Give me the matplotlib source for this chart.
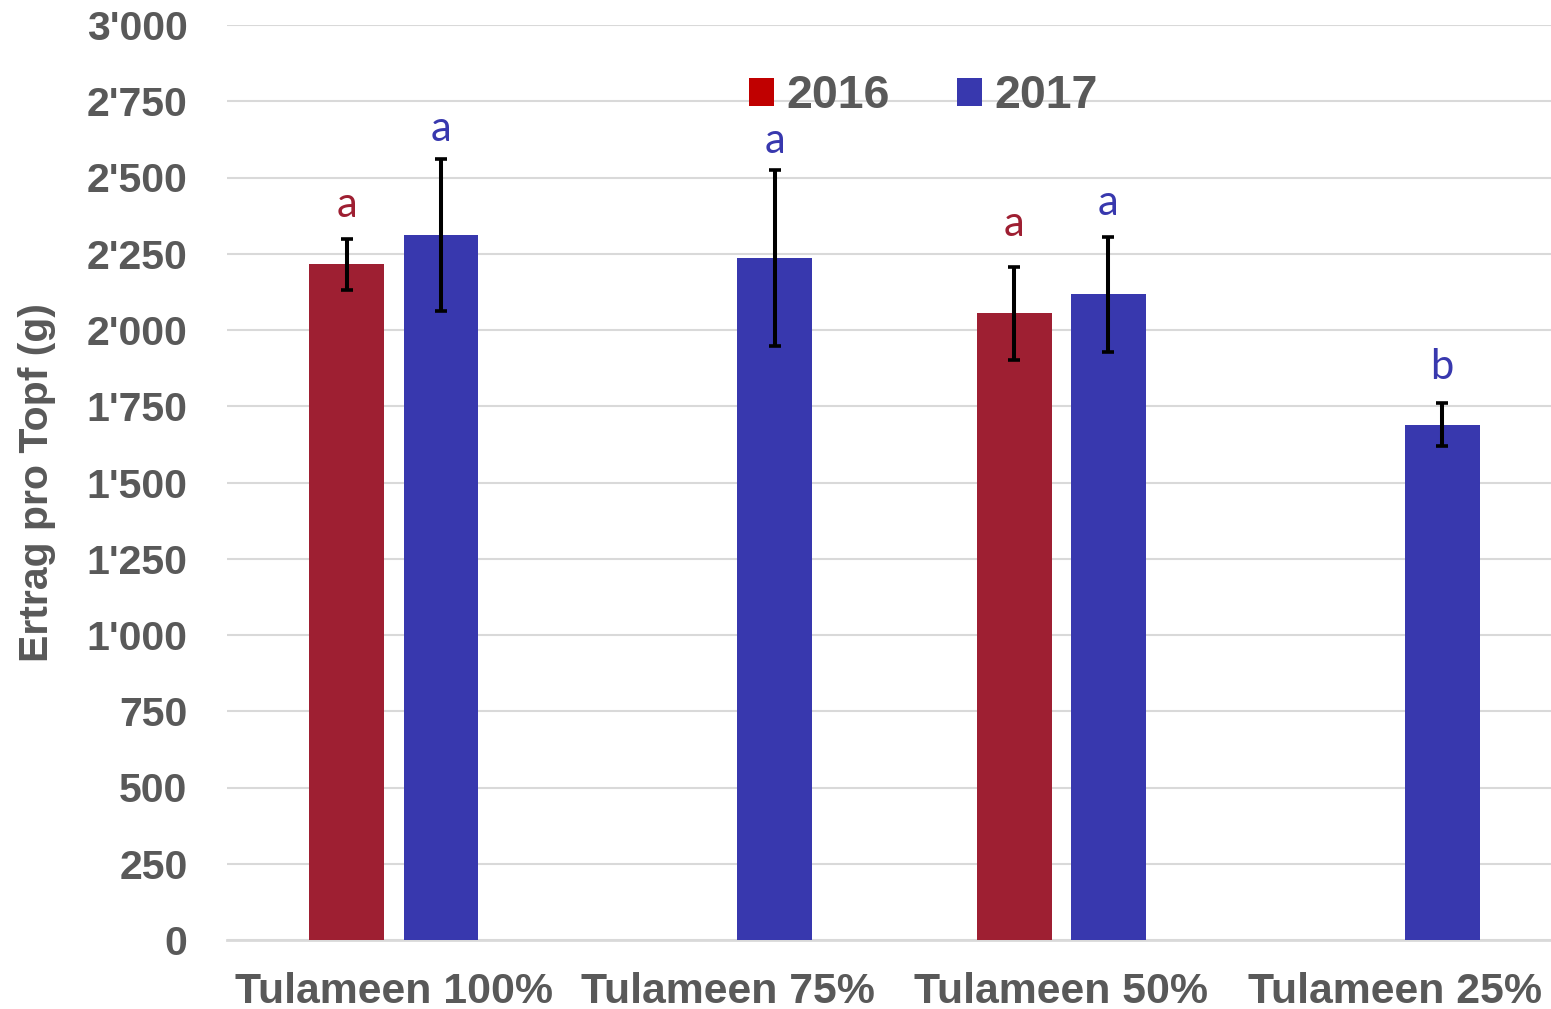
import numpy as np
import matplotlib
matplotlib.use("Agg")
import matplotlib.pyplot as plt
from matplotlib.patches import Patch
from matplotlib.ticker import FuncFormatter, MultipleLocator

categories = ["Tulameen 100%", "Tulameen 75%", "Tulameen 50%", "Tulameen 25%"]
series_names = ["2016", "2017"]
vals_2016 = [2215, np.nan, 2055, np.nan]
err_2016 = [83, np.nan, 152, np.nan]
vals_2017 = [2311, 2236, 2117, 1690]
err_2017 = [249, 287, 188, 70]
letters_2016 = ["a", "", "a", ""]
letter_y_2016 = [2372, np.nan, 2307, np.nan]
letters_2017 = ["a", "a", "a", "b"]
letter_y_2017 = [2620, 2580, 2378, 1839]

RED = "#9E1F32"
BLUE = "#3838AE"
LEG_RED = "#C00000"
GREY = "#595959"
GRID = "#D9D9D9"

plt.rcParams['font.family'] = ['Liberation Sans', 'DejaVu Sans']

fig = plt.figure(figsize=(15.51, 10.09), dpi=100)
W, H = 1551, 1009
left_px, right_px = 227, 1562
ax = fig.add_axes([left_px / W, (H - 940) / H, (right_px - left_px) / W, (940 - 25) / H])

x = np.arange(len(categories))
off = 0.141
bw = 0.224

ax.bar(x - off, vals_2016, bw, color=RED, zorder=3)
ax.bar(x + off, vals_2017, bw, color=BLUE, zorder=3)
ax.errorbar(x - off, vals_2016, yerr=err_2016, fmt="none", ecolor="black",
            elinewidth=2.9, capsize=4.5, capthick=2.6, zorder=4)
ax.errorbar(x + off, vals_2017, yerr=err_2017, fmt="none", ecolor="black",
            elinewidth=2.9, capsize=4.5, capthick=2.6, zorder=4)

for xi, t, yv in zip(x - off, letters_2016, letter_y_2016):
    if t:
        ax.text(xi, yv, t, color=RED, ha="center", va="baseline", fontsize=30,
                family=["Lato", "DejaVu Sans"], zorder=5)
for xi, t, yv in zip(x + off, letters_2017, letter_y_2017):
    if t:
        ax.text(xi, yv, t, color=BLUE, ha="center", va="baseline", fontsize=30,
                family=["Lato", "DejaVu Sans"], zorder=5)

ax.set_xlim(-0.5, len(categories) - 0.5)
ax.set_ylim(0, 3000)
ax.yaxis.set_major_locator(MultipleLocator(250))
ax.yaxis.set_major_formatter(FuncFormatter(lambda v, p: format(int(v), ",").replace(",", "'")))
ax.set_xticks(x)
ax.set_xticklabels(categories)

ax.grid(axis="y", color=GRID, linewidth=1.5, zorder=0)
ax.set_axisbelow(True)
for s in ["top", "right", "left"]:
    ax.spines[s].set_visible(False)
ax.spines["bottom"].set_color(GRID)
ax.spines["bottom"].set_linewidth(2)
ax.spines["bottom"].set_zorder(2)

ax.tick_params(axis="y", length=0, pad=28.5, labelsize=29.5, labelcolor=GREY)
ax.tick_params(axis="x", length=0, pad=23, labelsize=30.8, labelcolor=GREY)
for lbl in ax.get_xticklabels() + ax.get_yticklabels():
    lbl.set_fontweight("bold")

# top gridline is nearly invisible in the reference
ax.get_ygridlines()[-1].set_color("#F7F7F7")

ax.set_ylabel("Ertrag pro Topf (g)", fontsize=29.5, fontweight="bold", color=GREY)
ax.yaxis.set_label_coords((56 - left_px) / (right_px - left_px), 0.5)

handles = [Patch(facecolor=LEG_RED, edgecolor="none"), Patch(facecolor=BLUE, edgecolor="none")]
leg = ax.legend(handles, series_names, loc="center",
                bbox_to_anchor=((923 - left_px) / (right_px - left_px), 0.922), ncol=2,
                frameon=False, prop={"size": 33.5, "weight": "bold"},
                handlelength=0.54, handleheight=0.54, handletextpad=0.26, columnspacing=1.45)
for t in leg.get_texts():
    t.set_color(GREY)

fig.savefig("out.png", dpi=100)
